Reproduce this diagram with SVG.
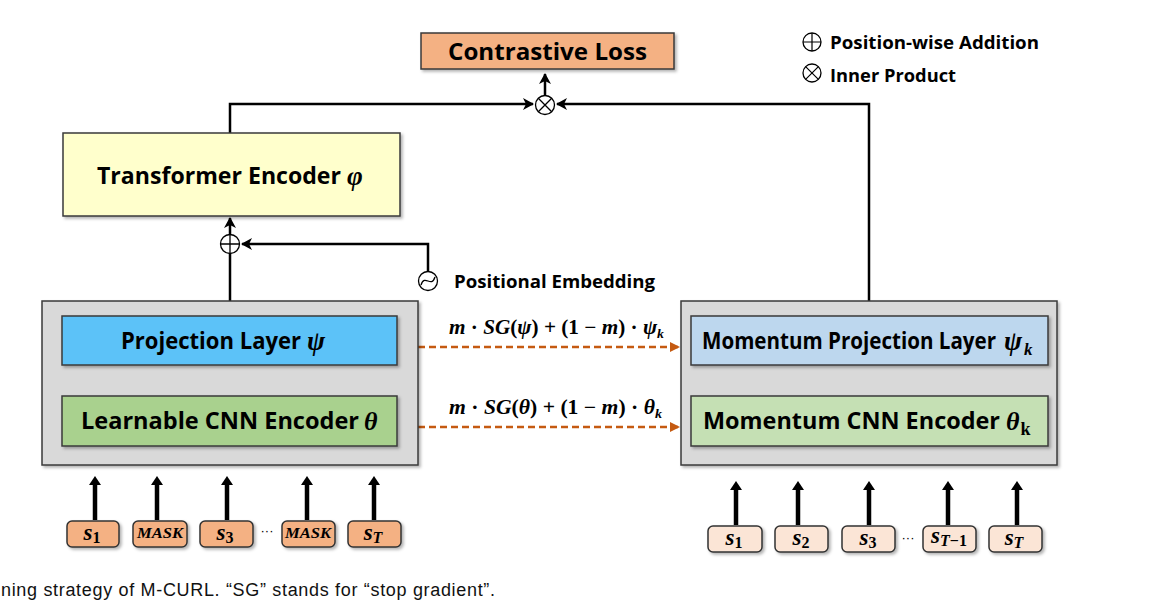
<svg xmlns="http://www.w3.org/2000/svg" width="1154" height="601" viewBox="0 0 1154 601">
<defs>
<style>
.lbl{font-family:"Open Sans","Noto Sans",sans-serif;font-weight:bold;fill:#000;}
.math{font-family:"Liberation Serif","DejaVu Serif",serif;font-weight:bold;font-style:italic;fill:#000;}
.up{font-style:normal;}
.box{stroke:#3a3a3a;stroke-width:1.5;}
.conn{stroke:#000;stroke-width:2.5;fill:none;}
.dash{stroke:#C55A11;stroke-width:2.5;stroke-dasharray:7 4;fill:none;}
.thick{stroke:#000;stroke-width:4.5;fill:none;}
.sym{stroke:#000;stroke-width:1.3;fill:#fff;}
.tokL{fill:#F4B183;stroke:#333;stroke-width:1.5;}
.tokR{fill:#FBE5D6;stroke:#333;stroke-width:1.5;}
.cap{font-family:"Liberation Sans",Arial,sans-serif;font-size:18px;fill:#111;}
</style>
<filter id="sh" x="-5%" y="-5%" width="115%" height="125%">
<feDropShadow dx="2" dy="2" stdDeviation="1.5" flood-color="#000" flood-opacity="0.3"/>
</filter>
<marker id="ah" markerUnits="userSpaceOnUse" markerWidth="14" markerHeight="14" refX="10" refY="6" orient="auto">
<path d="M0,0 L11,6 L0,12 L3,6 Z" fill="#000"/>
</marker>
<marker id="ahd" markerUnits="userSpaceOnUse" markerWidth="12" markerHeight="12" refX="9" refY="5" orient="auto">
<path d="M0,0 L10,5 L0,10 Z" fill="#C55A11"/>
</marker>
<marker id="aht" markerUnits="userSpaceOnUse" markerWidth="14" markerHeight="14" refX="1" refY="6" orient="auto">
<path d="M0,0 L9,6 L0,12 Z" fill="#000"/>
</marker>
</defs>
<rect width="1154" height="601" fill="#fff"/>

<g id="connectors">
<path class="conn" d="M230,133 V104 H533" marker-end="url(#ah)"/>
<path class="conn" d="M869,302 V104 H557" marker-end="url(#ah)"/>
<path class="conn" d="M545,95 V74" marker-end="url(#ah)"/>
<path class="conn" d="M230,302 V254"/>
<path class="conn" d="M230,234 V218" marker-end="url(#ah)"/>
<path class="conn" d="M428,271 V244 H242" marker-end="url(#ah)"/>
<path class="conn" d="M230,365 V396"/>
<path class="conn" d="M869,365 V396"/>
<path class="dash" d="M418,347 H679" marker-end="url(#ahd)"/>
<path class="dash" d="M418,427 H679" marker-end="url(#ahd)"/>
<g class="thick">
<path d="M95,520 V484" marker-end="url(#aht)"/>
<path d="M157,520 V484" marker-end="url(#aht)"/>
<path d="M227,520 V484" marker-end="url(#aht)"/>
<path d="M307,520 V484" marker-end="url(#aht)"/>
<path d="M374,520 V484" marker-end="url(#aht)"/>
<path d="M736,525 V489" marker-end="url(#aht)"/>
<path d="M798,525 V489" marker-end="url(#aht)"/>
<path d="M869,525 V489" marker-end="url(#aht)"/>
<path d="M948,525 V489" marker-end="url(#aht)"/>
<path d="M1017,525 V489" marker-end="url(#aht)"/>
</g>
</g>

<g id="contrastive-loss">
<rect class="box" x="421" y="33" width="253" height="36" fill="#F4B183" filter="url(#sh)"/>
<text class="lbl" x="448" y="60" font-size="24" textLength="199" lengthAdjust="spacingAndGlyphs">Contrastive Loss</text>
</g>

<g id="inner-product">
<circle class="sym" cx="545" cy="105" r="9.5"/>
<path d="M538.3,98.3 L551.7,111.7 M551.7,98.3 L538.3,111.7" stroke="#000" stroke-width="1.3"/>
</g>

<g id="transformer-encoder">
<rect class="box" x="63" y="133" width="337" height="83" fill="#FFFFCC" filter="url(#sh)"/>
<text class="lbl" x="97" y="184" font-size="23" textLength="244" lengthAdjust="spacingAndGlyphs">Transformer Encoder</text>
<text class="math" x="347" y="185" font-size="27">φ</text>
</g>

<g id="position-add">
<circle class="sym" cx="230" cy="244" r="9.5"/>
<path d="M220.5,244 H239.5 M230,234.5 V253.5" stroke="#000" stroke-width="1.3"/>
</g>

<g id="positional-embedding">
<circle class="sym" cx="428" cy="281" r="9.5"/>
<path d="M421,285 C425,273 431,289 435,277" stroke="#000" stroke-width="1.3" fill="none"/>
<text class="lbl" x="454" y="288" font-size="17" textLength="201" lengthAdjust="spacingAndGlyphs">Positional Embedding</text>
</g>

<g id="online-encoder">
<rect class="box" x="42" y="301" width="376" height="164" fill="#D9D9D9" filter="url(#sh)"/>
<g id="projection-layer">
<rect class="box" x="62" y="316" width="335" height="49" fill="#5BC2F8" filter="url(#sh)"/>
<text class="lbl" x="121" y="349" font-size="23" textLength="180" lengthAdjust="spacingAndGlyphs">Projection Layer</text>
<text class="math" x="307" y="350" font-size="27">ψ</text>
</g>
<g id="learnable-cnn">
<rect class="box" x="62" y="396" width="335" height="50" fill="#A9D18E" filter="url(#sh)"/>
<text class="lbl" x="81" y="429" font-size="23" textLength="278" lengthAdjust="spacingAndGlyphs">Learnable CNN Encoder</text>
<text class="math" x="364" y="430" font-size="26">θ</text>
</g>
</g>

<g id="momentum-encoder">
<rect class="box" x="681" y="301" width="376" height="164" fill="#D9D9D9" filter="url(#sh)"/>
<g id="momentum-projection">
<rect class="box" x="691" y="316" width="357" height="49" fill="#BDD7EE" filter="url(#sh)"/>
<text class="lbl" x="702" y="349" font-size="23" textLength="294" lengthAdjust="spacingAndGlyphs">Momentum Projection Layer</text>
<text class="math" x="1004" y="350" font-size="27">ψ<tspan font-size="17" dx="2" dy="5">k</tspan></text>
</g>
<g id="momentum-cnn">
<rect class="box" x="691" y="396" width="357" height="50" fill="#C5E0B4" filter="url(#sh)"/>
<text class="lbl" x="703" y="429" font-size="23" textLength="297" lengthAdjust="spacingAndGlyphs">Momentum CNN Encoder</text>
<text class="math" x="1006" y="430" font-size="26">θ<tspan class="up" font-size="18" dx="1" dy="5">k</tspan></text>
</g>
</g>

<g id="update-labels">
<text class="math" x="449" y="334" font-size="20" textLength="215" lengthAdjust="spacingAndGlyphs">m <tspan class="up">·</tspan> SG<tspan class="up">(</tspan>ψ<tspan class="up">) + (1 − </tspan>m<tspan class="up">) · </tspan>ψ<tspan font-size="13" dy="4">k</tspan></text>
<text class="math" x="449" y="414" font-size="20" textLength="213" lengthAdjust="spacingAndGlyphs">m <tspan class="up">·</tspan> SG<tspan class="up">(</tspan>θ<tspan class="up">) + (1 − </tspan>m<tspan class="up">) · </tspan>θ<tspan font-size="13" dy="4">k</tspan></text>
</g>

<g id="inputs-left">
<g id="tokL1"><rect class="tokL" x="67" y="521" width="52" height="26" rx="5" filter="url(#sh)"/><text class="math" x="92" y="540" font-size="23" text-anchor="middle">s<tspan class="up" font-size="16" dy="3">1</tspan></text></g>
<g id="tokL2"><rect class="tokL" x="133" y="521" width="54" height="26" rx="5" filter="url(#sh)"/><text class="math" x="137" y="538" font-size="15" textLength="46" lengthAdjust="spacingAndGlyphs">MASK</text></g>
<g id="tokL3"><rect class="tokL" x="200" y="521" width="53" height="26" rx="5" filter="url(#sh)"/><text class="math" x="225" y="540" font-size="23" text-anchor="middle">s<tspan class="up" font-size="16" dy="3">3</tspan></text></g>
<text x="267" y="535" font-family="Liberation Sans,sans-serif" font-size="13" text-anchor="middle">···</text>
<g id="tokL4"><rect class="tokL" x="282" y="521" width="53" height="26" rx="5" filter="url(#sh)"/><text class="math" x="285" y="538" font-size="15" textLength="46" lengthAdjust="spacingAndGlyphs">MASK</text></g>
<g id="tokL5"><rect class="tokL" x="348" y="521" width="53" height="26" rx="5" filter="url(#sh)"/><text class="math" x="373" y="540" font-size="23" text-anchor="middle">s<tspan font-size="16" dy="3">T</tspan></text></g>
</g>

<g id="inputs-right">
<g id="tokR1"><rect class="tokR" x="708" y="526" width="54" height="26" rx="5" filter="url(#sh)"/><text class="math" x="734" y="545" font-size="23" text-anchor="middle">s<tspan class="up" font-size="16" dy="3">1</tspan></text></g>
<g id="tokR2"><rect class="tokR" x="775" y="526" width="53" height="26" rx="5" filter="url(#sh)"/><text class="math" x="801" y="545" font-size="23" text-anchor="middle">s<tspan class="up" font-size="16" dy="3">2</tspan></text></g>
<g id="tokR3"><rect class="tokR" x="842" y="526" width="53" height="26" rx="5" filter="url(#sh)"/><text class="math" x="868" y="545" font-size="23" text-anchor="middle">s<tspan class="up" font-size="16" dy="3">3</tspan></text></g>
<text x="908" y="542" font-family="Liberation Sans,sans-serif" font-size="13" text-anchor="middle">···</text>
<g id="tokR4"><rect class="tokR" x="923" y="526" width="53" height="26" rx="5" filter="url(#sh)"/><text class="math" x="949" y="543" font-size="23" text-anchor="middle">s<tspan font-size="16" dy="3">T<tspan class="up">−1</tspan></tspan></text></g>
<g id="tokR5"><rect class="tokR" x="989" y="526" width="53" height="26" rx="5" filter="url(#sh)"/><text class="math" x="1014" y="545" font-size="23" text-anchor="middle">s<tspan font-size="16" dy="3">T</tspan></text></g>
</g>

<g id="legend">
<circle class="sym" cx="812" cy="42" r="9"/>
<path d="M803,42 H821 M812,33 V51" stroke="#000" stroke-width="1.2"/>
<text class="lbl" x="830" y="49" font-size="17" textLength="209" lengthAdjust="spacingAndGlyphs">Position-wise Addition</text>
<circle class="sym" cx="812" cy="73" r="9"/>
<path d="M805.6,66.6 L818.4,79.4 M818.4,66.6 L805.6,79.4" stroke="#000" stroke-width="1.2"/>
<text class="lbl" x="830" y="82" font-size="17" textLength="126" lengthAdjust="spacingAndGlyphs">Inner Product</text>
</g>

<text class="cap" x="1" y="596" textLength="494" lengthAdjust="spacing">ning strategy of M-CURL. “SG” stands for “stop gradient”.</text>
</svg>
